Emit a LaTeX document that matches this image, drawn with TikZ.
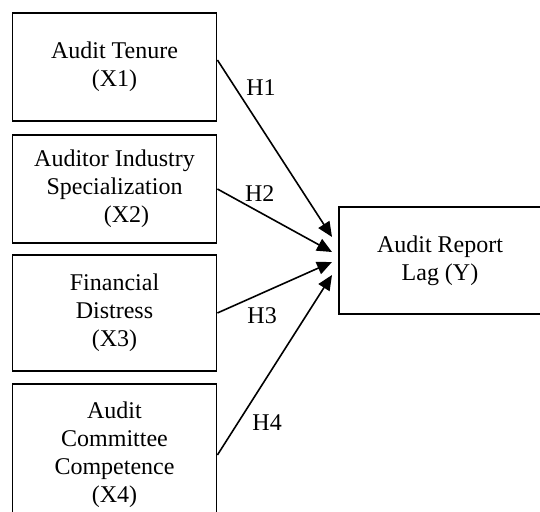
\documentclass[tikz,border=0pt]{standalone}
\usepackage{fontspec}
\setmainfont{Liberation Serif}
\usetikzlibrary{arrows.meta}

\tikzstyle{varbox} = [rectangle, minimum width=102pt, minimum height=54pt, align=center, draw=black, line width=0.9pt, fill=white, font=\fontsize{12}{14}\selectfont]
\tikzstyle{arrow} = [line width=0.8pt, -{Triangle[length=7.5pt, width=6.5pt]}]
\tikzstyle{hyp} = [font=\fontsize{12}{14}\selectfont]

\begin{document}
\begin{tikzpicture}[x=0.5pt, y=-0.5pt]
	\clip (0,0) rectangle (540,512);
	% Place nodes
	\node [varbox] (TENURE) at (114.5,67) {Audit Tenure\\(X1)};
	\node [varbox] (SPEC) at (114.5,189) {Auditor Industry\\Specialization\\\hspace*{12pt}(X2)};
	\node [varbox, minimum height=58pt] (DISTRESS) at (114.5,313) {Financial\\Distress\\(X3)};
	\node [varbox, minimum height=71pt] (COMMITTEE) at (114.5,455) {Audit\\Committee\\Competence\\(X4)};
	\node [varbox, minimum width=101pt, minimum height=53.5pt] (LAG) at (440,260.5) {Audit Report\\Lag (Y)};
	% Arrow tips in front of the dependent variable
	\coordinate (tip1) at (332,237);
	\coordinate (tip2) at (332,252);
	\coordinate (tip3) at (332,262);
	\coordinate (tip4) at (332,275);
	% Draw edges
	\draw [arrow] ([yshift=3.5pt]TENURE.east) -- node [hyp, pos=.17, right, xshift=1pt, yshift=1.5pt] {H1} (tip1);
	\draw [arrow] (SPEC.east) -- node [hyp, pos=.37, above, yshift=1.5pt] {H2} (tip2);
	\draw [arrow] (DISTRESS.east) -- node [hyp, pos=.39, below, yshift=-3.5pt] {H3} (tip3);
	\draw [arrow] (COMMITTEE.east) -- node [hyp, pos=.18, right, xshift=3.5pt] {H4} (tip4);
\end{tikzpicture}
\end{document}
